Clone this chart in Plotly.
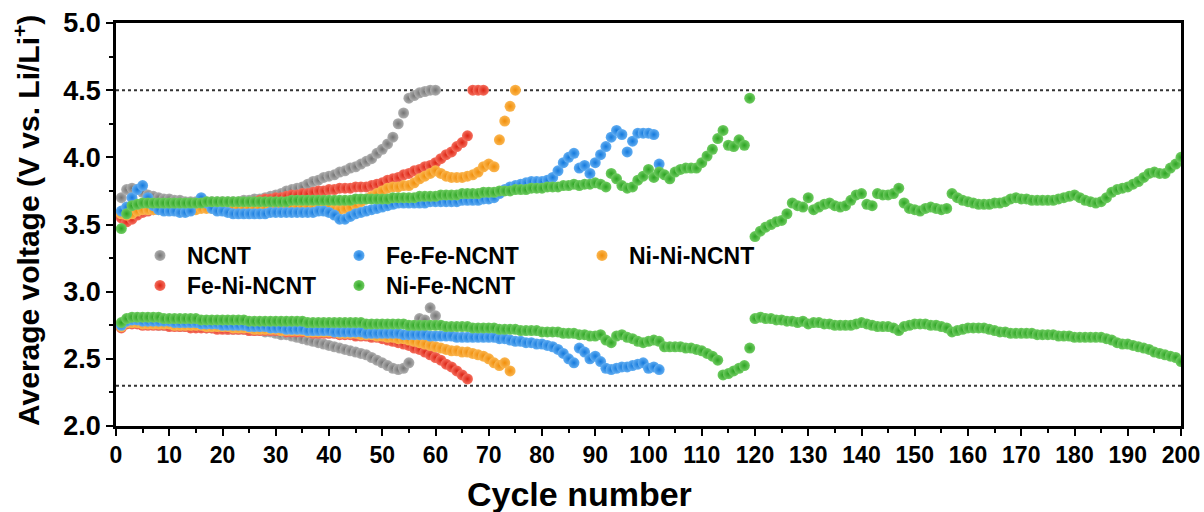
import plotly.graph_objects as go

# ---------------- data ----------------
series_names = ["NCNT", "Fe-Ni-NCNT", "Ni-Ni-NCNT", "Fe-Fe-NCNT", "Ni-Fe-NCNT"]

ncnt_charge = [3.70, 3.76, 3.77, 3.76, 3.74, 3.72, 3.71, 3.70, 3.69, 3.69,
               3.68, 3.68, 3.67, 3.67, 3.67, 3.67, 3.67, 3.67, 3.67, 3.67,
               3.67, 3.67, 3.67, 3.68, 3.68, 3.69, 3.69, 3.70, 3.71, 3.72,
               3.73, 3.75, 3.76, 3.77, 3.78, 3.80, 3.82, 3.83, 3.85, 3.86,
               3.87, 3.89, 3.90, 3.92, 3.93, 3.95, 3.97, 3.99, 4.03, 4.06,
               4.10, 4.15, 4.25, 4.33, 4.44, 4.46, 4.48, 4.49, 4.50, 4.50]
ncnt_discharge = [2.74, 2.77, 2.77, 2.77, 2.76, 2.76, 2.76, 2.75, 2.75, 2.75,
                  2.75, 2.74, 2.74, 2.74, 2.74, 2.74, 2.73, 2.73, 2.73, 2.73,
                  2.72, 2.72, 2.72, 2.72, 2.71, 2.71, 2.71, 2.70, 2.70, 2.69,
                  2.68, 2.68, 2.67, 2.66, 2.65, 2.64, 2.63, 2.62, 2.61, 2.60,
                  2.59, 2.58, 2.57, 2.56, 2.55, 2.54, 2.53, 2.51, 2.49, 2.47,
                  2.45, 2.43, 2.42, 2.43, 2.47, 2.66, 2.80, 2.79, 2.88, 2.82]

feni_charge = [3.55, 3.52, 3.54, 3.57, 3.59, 3.60, 3.61, 3.62, 3.62, 3.63,
               3.63, 3.63, 3.63, 3.64, 3.64, 3.64, 3.64, 3.64, 3.64, 3.64,
               3.65, 3.65, 3.65, 3.66, 3.66, 3.67, 3.68, 3.69, 3.69, 3.70,
               3.70, 3.71, 3.72, 3.72, 3.73, 3.73, 3.74, 3.75, 3.75, 3.76,
               3.76, 3.77, 3.77, 3.77, 3.78, 3.78, 3.78, 3.79, 3.80, 3.81,
               3.83, 3.84, 3.85, 3.87, 3.88, 3.90, 3.91, 3.93, 3.94, 3.96,
               3.99, 4.02, 4.04, 4.08, 4.11, 4.16, 4.50, 4.50, 4.50]
feni_discharge = [2.73, 2.76, 2.76, 2.76, 2.75, 2.75, 2.75, 2.75, 2.75, 2.74,
                  2.74, 2.74, 2.74, 2.73, 2.73, 2.73, 2.73, 2.73, 2.72, 2.72,
                  2.72, 2.72, 2.72, 2.72, 2.71, 2.71, 2.71, 2.71, 2.71, 2.71,
                  2.71, 2.70, 2.70, 2.70, 2.70, 2.70, 2.69, 2.69, 2.69, 2.69,
                  2.69, 2.68, 2.68, 2.68, 2.67, 2.67, 2.67, 2.66, 2.66, 2.65,
                  2.64, 2.63, 2.62, 2.61, 2.60, 2.58, 2.57, 2.55, 2.53, 2.51,
                  2.49, 2.46, 2.44, 2.41, 2.38, 2.35]

nini_charge = [3.58, 3.57, 3.58, 3.60, 3.61, 3.61, 3.61, 3.61, 3.61, 3.61,
               3.61, 3.61, 3.61, 3.61, 3.61, 3.62, 3.62, 3.62, 3.62, 3.62,
               3.62, 3.62, 3.62, 3.62, 3.62, 3.62, 3.62, 3.62, 3.62, 3.63,
               3.63, 3.63, 3.63, 3.63, 3.63, 3.63, 3.62, 3.62, 3.62, 3.62,
               3.61, 3.61, 3.62, 3.63, 3.65, 3.67, 3.69, 3.71, 3.73, 3.75,
               3.77, 3.78, 3.78, 3.79, 3.79, 3.81, 3.84, 3.86, 3.88, 3.90,
               3.88, 3.86, 3.85, 3.85, 3.85, 3.86, 3.87, 3.89, 3.93, 3.95,
               3.93, 4.13, 4.27, 4.38, 4.50]
nini_discharge = [2.74, 2.77, 2.77, 2.77, 2.76, 2.76, 2.76, 2.76, 2.76, 2.76,
                  2.75, 2.75, 2.75, 2.75, 2.75, 2.75, 2.74, 2.74, 2.74, 2.74,
                  2.74, 2.73, 2.73, 2.73, 2.73, 2.72, 2.72, 2.72, 2.72, 2.72,
                  2.71, 2.71, 2.71, 2.71, 2.71, 2.70, 2.70, 2.70, 2.70, 2.70,
                  2.70, 2.69, 2.69, 2.69, 2.69, 2.68, 2.68, 2.68, 2.67, 2.67,
                  2.66, 2.66, 2.65, 2.65, 2.64, 2.63, 2.62, 2.61, 2.60, 2.59,
                  2.58, 2.57, 2.56, 2.56, 2.55, 2.55, 2.54, 2.53, 2.52, 2.50,
                  2.47, 2.45, 2.47, 2.41]

fefe_charge = [3.60, 3.63, 3.70, 3.76, 3.79, 3.70, 3.64, 3.61, 3.60, 3.60,
               3.60, 3.59, 3.59, 3.60, 3.66, 3.70, 3.66, 3.62, 3.60, 3.60,
               3.59, 3.58, 3.58, 3.58, 3.58, 3.58, 3.58, 3.58, 3.59, 3.59,
               3.59, 3.59, 3.59, 3.59, 3.59, 3.59, 3.59, 3.60, 3.60, 3.59,
               3.57, 3.54, 3.54, 3.56, 3.58, 3.59, 3.60, 3.61, 3.62, 3.63,
               3.64, 3.65, 3.66, 3.66, 3.66, 3.66, 3.66, 3.66, 3.67, 3.67,
               3.67, 3.67, 3.67, 3.67, 3.68, 3.68, 3.68, 3.68, 3.69, 3.69,
               3.70, 3.73, 3.76, 3.78, 3.79, 3.80, 3.81, 3.82, 3.82, 3.82,
               3.83, 3.85, 3.90, 3.96, 4.00, 4.03, 3.92, 3.94, 3.88, 3.96,
               4.02, 4.08, 4.15, 4.20, 4.17, 4.04, 4.12, 4.18, 4.18, 4.18,
               4.17, 3.95]
fefe_discharge = [2.75, 2.78, 2.79, 2.79, 2.78, 2.78, 2.78, 2.78, 2.78, 2.78,
                  2.77, 2.77, 2.77, 2.77, 2.77, 2.76, 2.76, 2.76, 2.76, 2.75,
                  2.75, 2.75, 2.75, 2.75, 2.74, 2.74, 2.74, 2.74, 2.73, 2.73,
                  2.73, 2.72, 2.72, 2.72, 2.72, 2.71, 2.71, 2.71, 2.71, 2.71,
                  2.70, 2.70, 2.70, 2.70, 2.70, 2.70, 2.69, 2.69, 2.69, 2.69,
                  2.69, 2.69, 2.69, 2.68, 2.68, 2.68, 2.68, 2.68, 2.67, 2.67,
                  2.67, 2.67, 2.67, 2.66, 2.66, 2.66, 2.66, 2.66, 2.66, 2.66,
                  2.66, 2.65, 2.65, 2.64, 2.63, 2.63, 2.62, 2.62, 2.61, 2.61,
                  2.60, 2.59, 2.57, 2.54, 2.50, 2.47, 2.58, 2.55, 2.50, 2.52,
                  2.48, 2.43, 2.42, 2.43, 2.44, 2.44, 2.45, 2.46, 2.47, 2.43,
                  2.44, 2.42]

nife_charge = [3.47, 3.58, 3.64, 3.65, 3.66, 3.66, 3.66, 3.66, 3.66, 3.66,
               3.66, 3.66, 3.66, 3.66, 3.66, 3.66, 3.67, 3.67, 3.67, 3.67,
               3.67, 3.67, 3.67, 3.67, 3.67, 3.67, 3.67, 3.67, 3.67, 3.67,
               3.67, 3.67, 3.68, 3.68, 3.68, 3.68, 3.68, 3.68, 3.68, 3.68,
               3.68, 3.68, 3.68, 3.68, 3.69, 3.69, 3.69, 3.69, 3.69, 3.69,
               3.69, 3.70, 3.70, 3.70, 3.70, 3.70, 3.71, 3.71, 3.71, 3.71,
               3.72, 3.72, 3.72, 3.72, 3.73, 3.73, 3.73, 3.73, 3.74, 3.74,
               3.74, 3.75, 3.75, 3.75, 3.76, 3.76, 3.76, 3.77, 3.77, 3.77,
               3.78, 3.78, 3.78, 3.79, 3.79, 3.80, 3.79, 3.80, 3.80, 3.81,
               3.80, 3.78, 3.88, 3.84, 3.79, 3.77, 3.78, 3.83, 3.86, 3.91,
               3.85, 3.89, 3.87, 3.84, 3.89, 3.91, 3.92, 3.92, 3.92, 3.96,
               4.01, 4.06, 4.14, 4.20, 4.09, 4.08, 4.13, 4.09, 4.44, 3.41,
               3.45, 3.48, 3.50, 3.52, 3.53, 3.58, 3.66, 3.64, 3.63, 3.70,
               3.61, 3.63, 3.65, 3.66, 3.64, 3.63, 3.64, 3.68, 3.72, 3.73,
               3.65, 3.64, 3.73, 3.72, 3.72, 3.73, 3.77, 3.66, 3.62, 3.61,
               3.60, 3.62, 3.63, 3.62, 3.61, 3.62, 3.73, 3.70, 3.68, 3.67,
               3.66, 3.65, 3.65, 3.65, 3.66, 3.66, 3.67, 3.69, 3.70, 3.69,
               3.69, 3.68, 3.68, 3.68, 3.68, 3.68, 3.69, 3.70, 3.71, 3.72,
               3.70, 3.68, 3.67, 3.66, 3.67, 3.70, 3.74, 3.76, 3.77, 3.78,
               3.80, 3.82, 3.85, 3.88, 3.89, 3.88, 3.88, 3.92, 3.95, 4.00]
nife_discharge = [2.77, 2.80, 2.81, 2.81, 2.81, 2.81, 2.81, 2.81, 2.80, 2.80,
                  2.80, 2.80, 2.80, 2.80, 2.80, 2.79, 2.79, 2.79, 2.79, 2.79,
                  2.79, 2.79, 2.79, 2.79, 2.78, 2.78, 2.78, 2.78, 2.78, 2.78,
                  2.78, 2.78, 2.78, 2.78, 2.78, 2.77, 2.77, 2.77, 2.77, 2.77,
                  2.77, 2.77, 2.77, 2.77, 2.77, 2.77, 2.76, 2.76, 2.76, 2.76,
                  2.76, 2.76, 2.76, 2.76, 2.75, 2.75, 2.75, 2.75, 2.75, 2.75,
                  2.75, 2.74, 2.74, 2.74, 2.74, 2.74, 2.73, 2.73, 2.73, 2.73,
                  2.73, 2.72, 2.72, 2.72, 2.72, 2.71, 2.71, 2.71, 2.71, 2.70,
                  2.70, 2.70, 2.70, 2.69, 2.69, 2.69, 2.68, 2.68, 2.67, 2.67,
                  2.68, 2.64, 2.62, 2.67, 2.68, 2.66, 2.65, 2.63, 2.62, 2.63,
                  2.64, 2.63, 2.59, 2.59, 2.59, 2.59, 2.58, 2.58, 2.57, 2.56,
                  2.54, 2.52, 2.49, 2.38, 2.39, 2.41, 2.43, 2.45, 2.58, 2.80,
                  2.81, 2.80, 2.80, 2.79, 2.79, 2.78, 2.78, 2.77, 2.78, 2.76,
                  2.77, 2.77, 2.76, 2.76, 2.75, 2.75, 2.75, 2.75, 2.76, 2.77,
                  2.76, 2.75, 2.74, 2.74, 2.74, 2.73, 2.71, 2.74, 2.75, 2.76,
                  2.76, 2.76, 2.75, 2.75, 2.74, 2.73, 2.70, 2.71, 2.72, 2.73,
                  2.73, 2.73, 2.73, 2.72, 2.71, 2.70, 2.70, 2.69, 2.69, 2.69,
                  2.69, 2.69, 2.68, 2.68, 2.68, 2.68, 2.67, 2.67, 2.67, 2.66,
                  2.66, 2.66, 2.66, 2.66, 2.66, 2.65, 2.64, 2.62, 2.61, 2.61,
                  2.60, 2.59, 2.58, 2.57, 2.55, 2.54, 2.53, 2.52, 2.51, 2.48]

x_ticks = list(range(0, 201, 10))
y_ticks = [2.0, 2.5, 3.0, 3.5, 4.0, 4.5, 5.0]
cutoff_voltages = [4.5, 2.3]
x_title = "Cycle number"
y_title = "Average voltage (V vs. Li/Li<sup>+</sup>)"

# ---------------- style ----------------
FONT = "Liberation Sans, Arial, Helvetica, sans-serif"
# legend slot: (left edge px, top px) for each series
styles = {
    "NCNT":       dict(base="#737373", light="#b0b0b0", legend="legend",  pos=(133, 234)),
    "Fe-Ni-NCNT": dict(base="#dc2414", light="#f5705f", legend="legend2", pos=(133, 264)),
    "Ni-Ni-NCNT": dict(base="#f08e0a", light="#fbb650", legend="legend3", pos=(575, 234)),
    "Fe-Fe-NCNT": dict(base="#1479dc", light="#62aef2", legend="legend4", pos=(332, 234)),
    "Ni-Fe-NCNT": dict(base="#2ca322", light="#70cc62", legend="legend5", pos=(332, 264)),
}
data = {
    "NCNT": (ncnt_charge, ncnt_discharge),
    "Fe-Ni-NCNT": (feni_charge, feni_discharge),
    "Ni-Ni-NCNT": (nini_charge, nini_discharge),
    "Fe-Fe-NCNT": (fefe_charge, fefe_discharge),
    "Ni-Fe-NCNT": (nife_charge, nife_discharge),
}

fig = go.Figure()
for name in series_names:
    ch, dis = data[name]
    st = styles[name]
    xs = list(range(1, len(ch) + 1)) + list(range(1, len(dis) + 1))
    ys = ch + dis
    fig.add_trace(go.Scatter(
        x=xs, y=ys, mode="markers", name=name, legend=st["legend"], showlegend=True,
        marker=dict(size=11, color=st["light"],
                    gradient=dict(type="radial", color=st["base"]),
                    line=dict(width=0)),
    ))

for v in cutoff_voltages:
    fig.add_shape(type="line", xref="paper", x0=0, x1=1, yref="y", y0=v, y1=v,
                  line=dict(color="#333333", width=2, dash="dot"), layer="below")

legend_common = dict(orientation="v", font=dict(family=FONT, size=23, color="black", weight="bold"),
                     bgcolor="rgba(0,0,0,0)", borderwidth=0, itemwidth=44, visible=True,
                     xref="container", yref="container", xanchor="left", yanchor="top")
legends = {}
for name in series_names:
    st = styles[name]
    px, py = st["pos"]
    legends[st["legend"]] = dict(**legend_common, x=px / 1204, y=1 - py / 512)

fig.update_layout(
    width=1204, height=512,
    showlegend=True,
    margin=dict(l=116, r=23, t=23, b=86, autoexpand=False),
    paper_bgcolor="white", plot_bgcolor="white",
    font=dict(family=FONT, color="black"),
    **legends,
    xaxis=dict(range=[0, 200], tickvals=x_ticks, tickangle=0, ticks="outside", ticklen=7, tickwidth=2,
               tickcolor="black", showline=True, linecolor="black", linewidth=2.5, mirror=True,
               showgrid=False, zeroline=False,
               minor=dict(dtick=5, ticks="outside", ticklen=4, tickwidth=2, tickcolor="black"),
               tickfont=dict(family=FONT, size=23, color="black", weight="bold")),
    yaxis=dict(range=[2.0, 5.0], tickvals=y_ticks, tickformat=".1f", ticks="outside", ticklen=7,
               tickwidth=2, tickcolor="black", showline=True, linecolor="black", linewidth=2.5,
               mirror=True, showgrid=False, zeroline=False,
               minor=dict(dtick=0.25, ticks="outside", ticklen=4, tickwidth=2, tickcolor="black"),
               tickfont=dict(family=FONT, size=27, color="black", weight="bold")),
    annotations=[
        dict(text=x_title, xref="paper", yref="paper", x=0.435, y=-0.168,
             xanchor="center", yanchor="middle", showarrow=False,
             font=dict(family=FONT, size=34, color="black", weight="bold")),
        dict(text=y_title, xref="paper", yref="paper", x=-0.0836, y=0.511, textangle=-90,
             xanchor="center", yanchor="middle", showarrow=False,
             font=dict(family=FONT, size=30, color="black", weight="bold")),
    ],
)

fig.write_html("out.html")
